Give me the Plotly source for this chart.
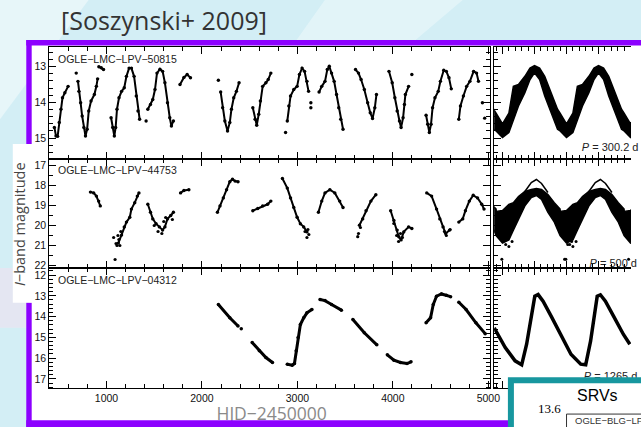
import plotly.graph_objects as go

N = None
# ---------------- data: time series (HJD-2450000, I mag) ----------------
top_hjd = [454, 471, 488, 505, 523, 539, 564, 598, N,
           683, N,
           701, 711, 729, 745, 763, 780, 797, 814, 838, 873, 894, 907, N,
           920, 945, 969, N,
           1048, 1065, 1082, 1096, 1110, 1131, 1158, 1186, 1209, 1237, 1261, 1289, 1312, 1330, 1347, N,
           1415, N,
           1433, 1461, 1485, 1508, 1529, 1560, 1588, 1612, 1639, 1663, 1680, 1701, N,
           1770, 1811, 1845, 1880, N,
           2172, N,
           2196, 2217, 2240, 2268, 2292, 2309, 2333, 2361, 2389, N,
           2533, 2557, 2574, 2595, 2612, 2636, 2670, 2694, 2722, N,
           2876, N,
           2894, 2910, 2928, 2962, 2997, 3021, 3049, 3075, 3100, 3117, N,
           3141, N, 3141, N,
           3227, 3255, 3289, 3313, 3334, 3358, 3385, 3410, 3433, 3454, 3478, N,
           3609, 3640, 3667, 3701, 3736, 3763, 3787, 3811, 3828, N,
           3959, 3993, 4021, 4045, 4069, 4086, 4107, 4121, 4131, 4165, N,
           4199, N,
           4348, 4365, 4382, 4400, 4416, 4441, 4475, 4498, 4533, 4560, 4588, 4612, N,
           4691, 4708, 4739, 4773, 4807, 4846, 4877, 4897, N,
           4938, N, 4962]
top_mag = [14.70, 14.94, 14.95, 14.56, 14.19, 13.87, 13.73, 13.55, N,
           13.18, N,
           13.41, 13.69, 14.01, 14.38, 14.70, 14.94, 14.75, 14.24, 13.96, 13.78, 13.55, 13.34, N,
           13.00, 13.03, 13.08, N,
           14.43, 14.70, 14.94, 14.70, 14.19, 13.87, 13.69, 13.59, 13.27, 13.04, 13.04, 13.27, 13.82, 14.24, 14.47, N,
           14.52, N,
           14.19, 14.06, 13.92, 13.64, 13.18, 13.07, 13.13, 13.45, 14.01, 14.43, 14.66, 14.52, N,
           13.50, 13.30, 13.22, 13.31, N,
           13.38, N,
           13.71, 14.15, 14.52, 14.80, 14.56, 14.19, 13.87, 13.69, 13.45, N,
           14.15, 14.47, 14.64, 14.33, 13.96, 13.55, 13.45, 13.36, 13.18, N,
           14.84, N,
           14.52, 14.10, 13.82, 13.64, 13.55, 13.22, 13.04, 13.13, 13.41, 13.69, N,
           14.01, N, 14.15, N,
           13.71, 13.55, 13.41, 13.08, 12.99, 13.18, 13.41, 13.78, 14.15, 14.47, 14.75, N,
           13.08, 13.18, 13.36, 13.64, 14.01, 14.29, 14.45, 14.15, 13.78, N,
           13.13, 13.45, 13.87, 14.24, 14.52, 14.70, 14.43, 14.06, 13.78, 13.55, N,
           13.22, N,
           14.36, 14.61, 14.84, 14.61, 14.15, 13.87, 13.69, 13.41, 13.10, 13.13, 13.31, 13.62, N,
           14.47, 14.10, 13.82, 13.55, 13.41, 13.13, 13.18, 13.41, N,
           14.01, N, 14.44]

mid_hjd = [832, 866, 894, 918, 935, N,
           1124, 1158, 1186, 1209, 1244, 1261, 1296, 1323, 1340, N,
           1433, 1461, 1485, 1519, 1554, 1588, 1612, 1639, 1673, 1701, N,
           1776, 1811, 1863, N,
           2162, 2189, 2224, 2258, 2292, 2320, 2347, 2378, N,
           2533, 2585, 2636, 2688, 2722, N,
           2843, 2894, 2928, 2962, 2997, 3031, 3066, 3100, N,
           3220, 3255, 3289, 3340, 3392, 3443, 3478, N,
           3650, 3684, 3719, 3770, 3822, N,
           3977, 4011, 4045, 4062, 4086, 4114, 4165, 4199, N,
           4355, 4406, 4458, 4492, 4526, 4553, 4595, N,
           4691, 4732, 4760, 4801, 4842, 4887, 4931, 4955]
mid_mag = [18.33, 18.37, 18.53, 18.78, 19.02, N,
           20.88, 20.48, 20.07, 19.83, 19.59, 19.18, 18.86, 18.53, 18.37, N,
           18.94, 19.34, 19.67, 19.91, 20.07, 20.23, 20.07, 19.67, 19.50, 19.34, N,
           18.37, 18.25, 18.21, N,
           19.34, 19.02, 18.62, 18.21, 17.81, 17.69, 17.78, 17.81, N,
           19.26, 19.15, 19.02, 18.94, 18.78, N,
           17.65, 18.13, 18.62, 19.10, 19.59, 19.91, 20.07, 20.32, N,
           19.34, 18.78, 18.37, 18.21, 18.37, 18.78, 19.10, N,
           19.99, 19.67, 19.26, 18.78, 18.46, N,
           19.26, 19.75, 20.23, 20.56, 20.72, 20.32, 20.07, 20.15, N,
           18.37, 18.53, 19.18, 19.67, 20.07, 20.40, 20.23, N,
           19.83, 19.67, 19.26, 18.78, 18.49, 18.62, 18.94, 19.18]
mid_sc_hjd = [1075, 1090, 1100, 1110, 1120, 1130, 1140, 1150, 1500, 1540, 1580, 1600, 1620, 1690,
              3080, 3100, 3120, 3110, 3632, 3640, 3660, 4010, 4040, 4060, 4080, 4100, 4540, 4560, 4600]
mid_sc_mag = [20.6, 21.7, 20.9, 21.0, 20.5, 20.7, 21.0, 20.3, 20.0, 20.3, 20.4, 19.8, 19.6, 19.7,
              20.3, 20.6, 20.45, 20.2, 20.56, 20.4, 20.1, 19.9, 20.5, 20.8, 20.4, 20.6, 20.3, 20.5, 20.2]

bot_hjd = [2172, 2292, 2378, N, 2412, N,
           2526, 2601, 2670, 2739, N,
           2894, 2945, 2969, 2987, 3007, 3031, 3066, 3100, 3152, N,
           3237, 3289, 3358, 3461, N,
           3581, 3701, 3832, N,
           3942, 4011, 4080, 4148, 4190, N,
           4348, 4395, 4423, 4457, 4509, 4560, 4605, N,
           4691, 4767, 4870, 4967]
bot_mag = [13.42, 14.06, 14.45, N, 14.58, N,
           15.25, 15.65, 15.97, 16.21, N,
           16.29, 16.34, 16.26, 15.65, 15.01, 14.38, 14.06, 13.82, 13.66, N,
           13.18, 13.23, 13.42, 13.69, N,
           14.14, 14.78, 15.36, N,
           15.84, 16.10, 16.21, 16.26, 16.18, N,
           14.30, 14.06, 13.42, 13.02, 12.91, 12.97, 13.04, N,
           13.31, 13.66, 14.30, 14.82]

# ---------------- data: phased light curves ----------------
top_cyc_ph = [-0.60, -0.50, -0.40, -0.33, -0.25, -0.15, -0.07, 0.00, 0.08, 0.16, 0.26, 0.36]
top_cyc_up = [14.30, 14.60, 14.30, 13.55, 13.50, 13.27, 13.04, 12.97, 13.04, 13.27, 13.73, 14.19]
top_cyc_lo = [14.80, 14.98, 14.84, 14.47, 14.10, 13.73, 13.36, 13.17, 13.36, 13.82, 14.29, 14.75]

mid_cyc_ph = [-0.60, -0.50, -0.40, -0.33, -0.25, -0.15, -0.05, 0.03, 0.11, 0.21, 0.31, 0.40]
mid_cyc_up = [19.30, 19.25, 18.94, 18.86, 18.55, 18.30, 18.20, 18.15, 18.20, 18.45, 18.86, 19.18]
mid_cyc_lo = [20.50, 20.88, 20.72, 20.23, 19.67, 19.02, 18.60, 18.50, 18.70, 19.34, 19.83, 20.48]
mid_top_ph = [-0.25, -0.15, -0.05, 0.03, 0.11, 0.21]
mid_top_mag = [18.90, 18.30, 17.85, 17.70, 17.90, 18.35]
mid_out_ph = [-0.51, -0.45, -0.40, -0.35, 0.47, 0.52, 0.58]
mid_out_mag = [21.69, 20.95, 21.05, 20.80, 21.69, 20.95, 20.80]

bot_ph = [-0.63, -0.457, -0.303, -0.20, -0.123, -0.057, 0.005, 0.057, 0.134, 0.26, 0.415, 0.57,
          0.723, 0.80, 0.877, 0.928, 0.98, 1.03, 1.108, 1.235, 1.39, 1.49]
bot_ph_mag = [14.54, 15.49, 16.13, 16.32, 15.33, 14.06, 13.02, 12.94, 13.26, 13.98, 14.86, 15.81,
              16.29, 16.32, 15.17, 14.06, 13.02, 12.95, 13.26, 13.98, 14.86, 15.33]

star_names = ["OGLE−LMC−LPV−50815", "OGLE−LMC−LPV−44753", "OGLE−LMC−LPV−04312"]
periods = ["<i>P</i> = 300.2 d", "<i>P</i> = 500 d", "<i>P</i> = 1265 d"]
x_title = "HJD−2450000"

# ---------------- geometry ----------------
W, H = 641, 427
def px(x): return x / W
def py(y): return (H - y) / H

LX = [px(50), px(498)]
RX = [px(502), 1.0]
YT = [py(160), py(47)]
YM = [py(270), py(160)]
YB = [py(391), py(270)]
rng_t = [15.58, 12.44]
rng_m = [22.13, 16.67]
rng_b = [17.45, 11.665]
prng = [-0.63, 1.508]

fig = go.Figure()

def ts(x, y, xa, ya, lw=2.0, ms=3.4):
    fig.add_trace(go.Scatter(x=x, y=y, xaxis=xa, yaxis=ya, mode="lines+markers",
                             line=dict(color="black", width=lw),
                             marker=dict(color="black", size=ms),
                             connectgaps=False, hoverinfo="skip"))

ts(top_hjd, top_mag, "x", "y")
ts(mid_hjd, mid_mag, "x2", "y2")
fig.add_trace(go.Scatter(x=mid_sc_hjd, y=mid_sc_mag, xaxis="x2", yaxis="y2", mode="markers",
                         marker=dict(color="black", size=3.2), hoverinfo="skip"))
ts(bot_hjd, bot_mag, "x3", "y3", lw=3, ms=3.5)

# phased bands (data repeated each cycle as in a phase diagram)
def band(ph, up, lo, xa, ya):
    xs, us, ls = [], [], []
    for k in (-1, 0, 1, 2):
        xs += [p + k for p in ph]
        us += up
        ls += lo
    fig.add_trace(go.Scatter(x=xs, y=ls, xaxis=xa, yaxis=ya, mode="lines",
                             line=dict(color="black", width=1.5), hoverinfo="skip"))
    fig.add_trace(go.Scatter(x=xs, y=us, xaxis=xa, yaxis=ya, mode="lines", fill="tonexty",
                             fillcolor="black", line=dict(color="black", width=1.5), hoverinfo="skip"))

band(top_cyc_ph, top_cyc_up, top_cyc_lo, "x4", "y4")
band(mid_cyc_ph, mid_cyc_up, mid_cyc_lo, "x5", "y5")
for k in (0, 1):
    fig.add_trace(go.Scatter(x=[p + k for p in mid_top_ph], y=mid_top_mag, xaxis="x5", yaxis="y5",
                             mode="lines", line=dict(color="black", width=1.5), hoverinfo="skip"))
    fig.add_trace(go.Scatter(x=[p + k for p in mid_out_ph], y=mid_out_mag, xaxis="x5", yaxis="y5",
                             mode="markers", marker=dict(color="black", size=3), hoverinfo="skip"))
fig.add_trace(go.Scatter(x=bot_ph, y=bot_ph_mag, xaxis="x6", yaxis="y6", mode="lines",
                         line=dict(color="black", width=3.5), hoverinfo="skip"))

# period labels as text traces (so the teal box can cover them)
per_pos = [(0.74, 15.28, "x4", "y4"), (0.86, 21.92, "x5", "y5"), (0.77, 16.93, "x6", "y6")]
for (xp, yp, xa, ya), t in zip(per_pos, periods):
    fig.add_trace(go.Scatter(x=[xp], y=[yp], xaxis=xa, yaxis=ya, mode="text", text=[t],
                             textposition="middle right", cliponaxis=False,
                             textfont=dict(family="Liberation Sans", size=11, color="#222"),
                             hoverinfo="skip"))

# x-axis title, drawn just above/under the purple frame line (pixel overlay axes)
fig.add_trace(go.Scatter(x=[276], y=[418.5], xaxis="x7", yaxis="y7", mode="text", text=[x_title],
                         textposition="middle center", cliponaxis=False,
                         textfont=dict(family="Open Sans", size=17.5, color="#8a8a8a"), hoverinfo="skip"))

tickfont = dict(family="Liberation Sans", size=10.5, color="#111")

def xax(domain, anchor, rng, dtick, minor, labels):
    return dict(domain=domain, anchor=anchor, range=rng, dtick=dtick, tick0=0,
                ticks="inside", ticklen=7, tickwidth=1, tickcolor="black",
                showline=True, linecolor="black", linewidth=1, mirror="ticks",
                showgrid=False, zeroline=False, showticklabels=labels, tickfont=tickfont,
                minor=dict(dtick=minor, ticks="inside", ticklen=4, tickcolor="black", showgrid=False))

def yax(domain, anchor, rng, minor, labels, mirror="ticks"):
    return dict(domain=domain, anchor=anchor, range=rng, dtick=1, tick0=0,
                ticks="inside", ticklen=7, tickwidth=1, tickcolor="black",
                showline=True, linecolor="black", linewidth=1, mirror=mirror,
                showgrid=False, zeroline=False, showticklabels=labels, tickfont=tickfont,
                minor=dict(dtick=minor, ticks="inside", ticklen=4, tickcolor="black", showgrid=False))

fig.update_layout(
    xaxis=xax(LX, "y", [400, 5020], 1000, 200, False),
    xaxis2=xax(LX, "y2", [400, 5020], 1000, 200, False),
    xaxis3=xax(LX, "y3", [400, 5020], 1000, 200, True),
    xaxis4=xax(RX, "y4", prng, 0.5, 0.1, False),
    xaxis5=xax(RX, "y5", prng, 0.5, 0.1, False),
    xaxis6=xax(RX, "y6", prng, 0.5, 0.1, False),
    yaxis=yax(YT, "x", rng_t, 0.2, True),
    yaxis2=yax(YM, "x2", rng_m, 0.5, True),
    yaxis3=yax(YB, "x3", rng_b, 0.2, True),
    yaxis4=yax(YT, "x4", rng_t, 0.2, False, mirror=False),
    yaxis5=yax(YM, "x5", rng_m, 0.5, False, mirror=False),
    yaxis6=yax(YB, "x6", rng_b, 0.2, False, mirror=False),
    xaxis7=dict(domain=[0, 1], anchor="y7", range=[0, W], visible=False, fixedrange=True),
    yaxis7=dict(domain=[0, 1], anchor="x7", range=[H, 0], visible=False, fixedrange=True),
)

PURPLE = "#8c00ff"
TEAL = "#17979f"
def prect(x0, x1, y0, y1, color, layer):
    return dict(type="rect", xref="paper", yref="paper", layer=layer,
                x0=px(x0), x1=px(x1), y0=py(y1), y1=py(y0), fillcolor=color, line=dict(width=0))

shapes = [
    # slide background streaks
    dict(type="path", xref="paper", yref="paper", layer="below",
         path=f"M 0 1 L {px(90)} 1 L 0 {py(120)} Z", fillcolor="rgba(255,255,255,0.45)", line=dict(width=0)),
    dict(type="path", xref="paper", yref="paper", layer="below",
         path=f"M {px(330)} 1 L {px(470)} 1 L {px(420)} {py(42)} L {px(300)} {py(42)} Z",
         fillcolor="rgba(255,255,255,0.35)", line=dict(width=0)),
    prect(0, 27, 270, 330, "rgba(240,225,240,0.6)", "below"),
    # white slide panel and white box behind y label
    prect(30, 700, 43, 430, "white", "below"),
    prect(13, 33, 145, 305, "white", "below"),
    # purple frame edges
    prect(26.7, 700, 40.3, 45.8, PURPLE, "above"),
    prect(26.7, 32.2, 40.3, 145, PURPLE, "above"),
    prect(26.7, 32.2, 305, 430, PURPLE, "above"),
    prect(26.7, 700, 423.3, 430, PURPLE, "above"),
    # teal box
    dict(type="rect", xref="paper", yref="paper", layer="above",
         x0=px(519), x1=1.2, y0=-0.2, y1=py(383), fillcolor="white",
         line=dict(color=TEAL, width=6)),
    dict(type="rect", xref="paper", yref="paper", layer="above",
         x0=px(575.5), x1=1.2, y0=-0.2, y1=py(417), fillcolor="white",
         line=dict(color="#333", width=1)),
]

ann = [
    dict(text="[Soszynski+ 2009]", x=px(167), y=py(20), font=dict(family="Open Sans", size=25, color="#333")),
    dict(text="<i>I</i>−band magnitude", x=px(20), y=py(226), textangle=-90,
         font=dict(family="Open Sans", size=14.5, color="#444")),
    dict(text="SRVs", x=px(607), y=py(398), font=dict(family="Liberation Sans", size=16, color="black")),
    dict(text="13.6", x=px(558), y=py(411), font=dict(family="Liberation Serif", size=13, color="black")),
    dict(text="OGLE−BLG−LPV", x=px(582), y=py(423), xanchor="left",
         font=dict(family="Liberation Sans", size=9.5, color="#333")),
]
for name, yy in zip(star_names, [59, 171, 282]):
    ann.append(dict(text=name, x=px(57), y=py(yy), xanchor="left",
                    font=dict(family="Liberation Sans", size=10.5, color="#222")))
for a in ann:
    a.update(xref="paper", yref="paper", showarrow=False)
    a.setdefault("xanchor", "center")
    a.setdefault("yanchor", "middle")

fig.update_layout(width=W, height=H, autosize=False, margin=dict(l=0, r=0, t=0, b=0),
                  paper_bgcolor="#d3eef5", plot_bgcolor="rgba(0,0,0,0)", showlegend=False,
                  shapes=shapes, annotations=ann)

fig.write_html("out.html")
